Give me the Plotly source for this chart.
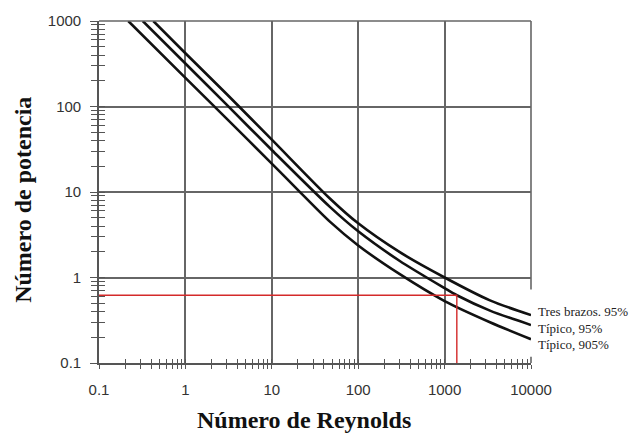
import plotly.graph_objects as go

# Reynolds number / power number readings for each impeller curve
re_tres_brazos = [0.425, 1, 3, 10, 47, 100, 300, 1000, 3350, 10000]
np_tres_brazos = [1000, 420, 140, 41, 8.4, 4.3, 1.99, 1.0, 0.54, 0.363]

re_tipico_95 = [0.321, 1, 3, 10, 47, 100, 300, 1000, 1385, 3350, 10000]
np_tipico_95 = [1000, 318, 105, 31, 6.7, 3.47, 1.57, 0.75, 0.62, 0.41, 0.278]

re_tipico_905 = [0.218, 1, 3, 10, 20, 47, 100, 300, 1000, 3350, 10000]
np_tipico_905 = [1000, 216, 72, 21.5, 10.6, 4.5, 2.37, 1.1, 0.53, 0.30, 0.19]

curve_names = ["Tres brazos. 95%", "Típico, 95%", "Típico, 905%"]

# operating point
op_re = 1385
op_np = 0.62

x_ticks = [0.1, 1, 10, 100, 1000, 10000]
x_ticktext = ["0.1", "1", "10", "100", "1000", "10000"]
y_ticks = [0.1, 1, 10, 100, 1000]
y_ticktext = ["0.1", "1", "10", "100", "1000"]

x_min, x_max = 0.1, 10000
y_min, y_max = 0.1, 1000

GRID = "#666666"
AXIS = "#555555"
LABEL_FONT = dict(family="Liberation Sans, Arial, sans-serif", size=15, color="#333333")
SERIF = "Liberation Serif, Times New Roman, serif"


def minor_vals(lo, hi):
    vals = []
    d = lo
    while d < hi:
        vals += [d * k for k in range(2, 10)]
        d *= 10
    return vals


fig = go.Figure()

for re_vals, np_vals, name in [
    (re_tres_brazos, np_tres_brazos, curve_names[0]),
    (re_tipico_95, np_tipico_95, curve_names[1]),
    (re_tipico_905, np_tipico_905, curve_names[2]),
]:
    fig.add_trace(go.Scatter(
        x=re_vals, y=np_vals, mode="lines", name=name,
        line=dict(color="#111111", width=2.6, shape="spline", smoothing=0.8),
        showlegend=False, hoverinfo="skip",
    ))

# red guide from the power number across to the curve and down to the Re axis
fig.add_trace(go.Scatter(
    x=[x_min, op_re, op_re], y=[op_np, op_np, y_min],
    mode="lines", line=dict(color="#d42a2a", width=1.4),
    showlegend=False, hoverinfo="skip", xaxis="x2", yaxis="y2",
))

common_x = dict(type="log", range=[-1, 4], tickvals=x_ticks, zeroline=False, fixedrange=True)
common_y = dict(type="log", range=[-1, 3], tickvals=y_ticks, zeroline=False, fixedrange=True)

fig.update_layout(
    width=634, height=434,
    margin=dict(l=99, r=103, t=15, b=71),
    paper_bgcolor="white", plot_bgcolor="white",
    xaxis=dict(
        **common_x, ticktext=x_ticktext, tickfont=LABEL_FONT,
        ticks="outside", ticklen=4, tickwidth=1.3, tickcolor=AXIS,
        showgrid=True, gridcolor=GRID, gridwidth=1.6,
        showline=True, linecolor=AXIS, linewidth=1.6,
        minor=dict(tickvals=minor_vals(0.1, 10000), ticks="outside", ticklen=4,
                   tickwidth=1.3, tickcolor=AXIS, showgrid=False),
        ticklabelstandoff=8,
    ),
    yaxis=dict(
        **common_y, ticktext=y_ticktext, tickfont=LABEL_FONT,
        ticks="outside", ticklen=7, tickwidth=1.3, tickcolor=AXIS,
        showgrid=True, gridcolor=GRID, gridwidth=1.6,
        showline=True, linecolor=AXIS, linewidth=1.6,
        minor=dict(tickvals=minor_vals(0.1, 1000), ticks="outside", ticklen=6,
                   tickwidth=1.3, tickcolor=AXIS, showgrid=False),
        ticklabelstandoff=6,
    ),
    xaxis2=dict(
        **common_x, overlaying="x", anchor="y2", side="bottom",
        showticklabels=False, showgrid=False, showline=False,
        ticks="inside", ticklen=4, tickwidth=1.3, tickcolor=AXIS,
        minor=dict(tickvals=minor_vals(0.1, 10000), ticks="inside", ticklen=4,
                   tickwidth=1.3, tickcolor=AXIS),
    ),
    yaxis2=dict(
        **common_y, overlaying="y", anchor="x2", side="left",
        showticklabels=False, showgrid=False, showline=False,
        ticks="inside", ticklen=6, tickwidth=1.3, tickcolor=AXIS,
        minor=dict(tickvals=minor_vals(0.1, 1000), ticks="inside", ticklen=6,
                   tickwidth=1.3, tickcolor=AXIS),
    ),
)

# frame: top edge and the right edge (open where the curve labels sit)
fig.add_shape(type="line", xref="paper", yref="paper", x0=0, x1=1, y0=1, y1=1,
              line=dict(color=GRID, width=1.6))
fig.add_shape(type="line", xref="paper", yref="paper", x0=1, x1=1, y0=1, y1=0.215,
              line=dict(color=GRID, width=1.6))
fig.add_shape(type="line", xref="paper", yref="paper", x0=1, x1=1, y0=0.018, y1=0,
              line=dict(color=GRID, width=1.6))

# curve labels at the right end
for name, ypos in zip(curve_names, [0.152, 0.1006, 0.0546]):
    fig.add_annotation(text=name, xref="paper", yref="paper", x=1, y=ypos,
                       xanchor="left", yanchor="middle", xshift=5, showarrow=False,
                       font=dict(family=SERIF, size=13, color="#222222"))

# axis titles
fig.add_annotation(text="<b>Número de Reynolds</b>", xref="paper", yref="paper",
                   x=(304 - 99) / 432, y=(363 - 421) / 348, xanchor="center", yanchor="middle",
                   showarrow=False, font=dict(family=SERIF, size=24, color="#111111"))
fig.add_annotation(text="<b>Número de potencia</b>", xref="paper", yref="paper",
                   x=(23 - 99) / 432, y=(363 - 197) / 348, xanchor="center", yanchor="middle",
                   textangle=-90, showarrow=False,
                   font=dict(family=SERIF, size=24, color="#111111"))

fig.write_html("out.html")
